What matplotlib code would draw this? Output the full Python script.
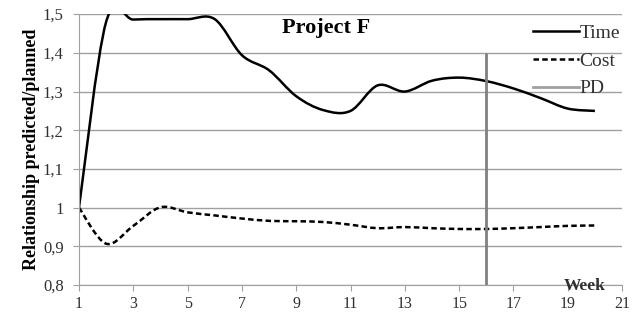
import matplotlib
matplotlib.use("Agg")
import matplotlib.pyplot as plt
import numpy as np
from matplotlib.path import Path
from matplotlib.patches import PathPatch
from matplotlib.lines import Line2D

weeks = [1, 2, 3, 4, 5, 6, 7, 8, 9, 10, 11, 12, 13, 14, 15, 16, 17, 18, 19, 20]
time_ratio = [1.0, 1.48, 1.486, 1.487, 1.487, 1.487, 1.394, 1.355, 1.288, 1.252,
              1.25, 1.316, 1.30, 1.328, 1.336, 1.327, 1.308, 1.283, 1.256, 1.25]
cost_ratio = [1.0, 0.907, 0.953, 1.001, 0.988, 0.98, 0.972, 0.966, 0.965, 0.963,
              0.956, 0.947, 0.95, 0.947, 0.945, 0.945, 0.947, 0.95, 0.953, 0.954]
pd_week = 16
pd_top = 1.4

x_ticks = [1, 3, 5, 7, 9, 11, 13, 15, 17, 19, 21]
y_ticks = [0.8, 0.9, 1.0, 1.1, 1.2, 1.3, 1.4, 1.5]
y_labels = ["0,8", "0,9", "1", "1,1", "1,2", "1,3", "1,4", "1,5"]

plt.rcParams['font.family'] = ['Liberation Serif', 'DejaVu Serif']
grey = '#a0a0a0'
txt = '#303030'


def smooth_path(xs, ys):
    # Excel-like smoothed line: Catmull-Rom segments as cubic Bezier curves
    p = np.column_stack([xs, ys]).astype(float)
    n = len(p)
    verts = [p[0]]
    codes = [Path.MOVETO]
    for i in range(n - 1):
        p0 = p[i - 1] if i > 0 else p[i]
        p3 = p[i + 2] if i + 2 < n else p[i + 1]
        c1 = p[i] + (p[i + 1] - p0) / 6
        c2 = p[i + 1] - (p3 - p[i]) / 6
        verts += [c1, c2, p[i + 1]]
        codes += [Path.CURVE4] * 3
    return Path(verts, codes)


fig = plt.figure(figsize=(6.42, 3.14), dpi=100)
ax = fig.add_axes([0.123, 0.092, 0.846, 0.863])
ax.set_xlim(1, 21)
ax.set_ylim(0.8, 1.5)

ax.add_patch(PathPatch(smooth_path(weeks, time_ratio), fill=False,
                       edgecolor='black', linewidth=1.8, capstyle='butt'))
ax.add_patch(PathPatch(smooth_path(weeks, cost_ratio), fill=False,
                       edgecolor='black', linewidth=1.8, linestyle=(0, (2.2, 1.3))))
ax.vlines(pd_week, 0.8, pd_top, color='#808080', linewidth=2)

ax.set_xticks(x_ticks)
ax.set_yticks(y_ticks)
ax.set_yticklabels(y_labels)
ax.grid(axis='y', color=grey, linewidth=1)
ax.set_axisbelow(True)

for s in ['top', 'right']:
    ax.spines[s].set_visible(False)
for s in ['left', 'bottom']:
    ax.spines[s].set_color(grey)
ax.tick_params(axis='both', colors=grey, labelcolor=txt, labelsize=12,
               length=4, direction='out')
ax.tick_params(axis='x', pad=4, labelsize=11.5)
ax.tick_params(axis='y', pad=7)

ax.set_ylabel('Relationship predicted/planned', fontweight='bold', fontsize=13,
              color='black')
ax.yaxis.set_label_coords(-0.072, 0.5)
ax.text(0.455, 0.95, 'Project F', transform=ax.transAxes, ha='center', va='center',
        fontsize=16, fontweight='bold')
ax.text(0.932, -0.019, 'Week', transform=ax.transAxes, ha='center', va='baseline',
        fontsize=12.5, fontweight='bold', color=txt)

handles = [Line2D([], [], color='black', linewidth=1.8),
           Line2D([], [], color='black', linewidth=1.8, linestyle=(0, (2.2, 1.3))),
           Line2D([], [], color='#a0a0a0', linewidth=2)]
leg = ax.legend(handles, ['Time', 'Cost', 'PD'], loc='upper left',
                bbox_to_anchor=(0.836, 0.962), frameon=False, fontsize=14,
                handlelength=2.35, handletextpad=0.05, labelspacing=0.52,
                borderaxespad=0, borderpad=0)
plt.setp(leg.get_texts(), color=txt)

fig.savefig('out.png', dpi=100)
